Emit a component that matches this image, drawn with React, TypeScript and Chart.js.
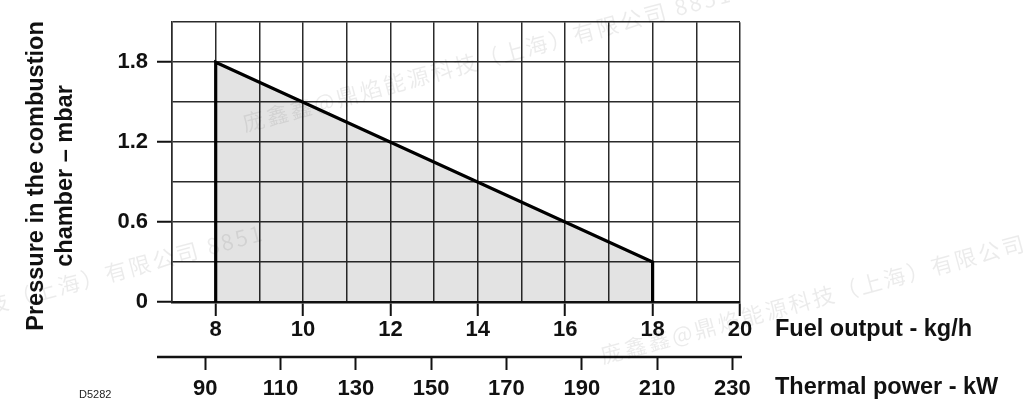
import { useEffect, useRef } from 'react';
import { Chart, registerables } from 'chart.js';

Chart.register(...registerables);

// ---- data ----
const fuelOutput = [8, 8, 18, 18]; // kg/h
const pressure = [0, 1.8, 0.3, 0]; // mbar
const fuelTickLabels = ['8', '10', '12', '14', '16', '18', '20'];
const pressureTickLabels = ['0', '0.6', '1.2', '1.8'];
const thermalTicks = [90, 110, 130, 150, 170, 190, 210, 230]; // kW
const KW_PER_KG = 11.6;
const FUEL_MIN = 7;
const FUEL_MAX = 20;
const FUEL_STEP = 1;
const P_MIN = 0;
const P_MAX = 2.1;
const P_STEP = 0.3;

const yTitleLines = ['Pressure in the combustion', 'chamber – mbar'];
const xTitle = 'Fuel output - kg/h';
const x2Title = 'Thermal power - kW';
const drawingCode = 'D5282';
const watermark = '庞鑫鑫@鼎焰能源科技（上海）有限公司 8851';

const FONT = '"Liberation Sans", Arial, Helvetica, sans-serif';
const INK = '#111';
const GRID = '#2b2b2b';

const fmt = (v: number) => String(Math.round(v * 10) / 10);
const showFuel = (v: number) => fuelTickLabels.includes(fmt(v));
const showPressure = (v: number) => pressureTickLabels.includes(fmt(v));

const decorPlugin = {
  id: 'decor',
  afterDraw(chart: any) {
    const { ctx, chartArea, scales } = chart;
    const x2 = scales.x2;
    ctx.save();
    // thermal power axis line (extends left like the pressure ticks)
    ctx.strokeStyle = INK;
    ctx.lineWidth = 2.5;
    ctx.beginPath();
    ctx.moveTo(chartArea.left - 15, x2.top + 1);
    ctx.lineTo(chartArea.right + 2, x2.top + 1);
    ctx.stroke();

    // axis titles on the right
    ctx.fillStyle = INK;
    ctx.font = `bold 23.5px ${FONT}`;
    ctx.textAlign = 'left';
    ctx.textBaseline = 'alphabetic';
    ctx.fillText(xTitle, chartArea.right + 35, 336);
    ctx.fillText(x2Title, chartArea.right + 35, 394);

    // drawing code
    ctx.font = `11px ${FONT}`;
    ctx.fillStyle = '#222';
    ctx.fillText(drawingCode, 79, 398);

    // y title (rotated)
    ctx.save();
    ctx.fillStyle = INK;
    ctx.font = `bold 23.5px ${FONT}`;
    ctx.translate(43.3, 176);
    ctx.rotate(-Math.PI / 2);
    ctx.textAlign = 'center';
    ctx.fillText(yTitleLines[0], 0, 0);
    ctx.fillText(yTitleLines[1], 0, 28.4);
    ctx.restore();

    // faint watermark
    ctx.fillStyle = 'rgba(0,0,0,0.08)';
    ctx.font = `22px "Noto Sans CJK SC", sans-serif`;
    try {
      (ctx as any).letterSpacing = '2.5px';
    } catch (e) {
      /* ignore */
    }
    const ang = (-15 * Math.PI) / 180;
    const marks: [number, number, CanvasTextAlign][] = [
      [245, 132, 'left'],
      [266, 240, 'right'],
      [603, 364, 'left'],
    ];
    for (const [mx, my, al] of marks) {
      ctx.save();
      ctx.translate(mx, my);
      ctx.rotate(ang);
      ctx.textAlign = al;
      ctx.fillText(watermark, 0, 0);
      ctx.restore();
    }
    ctx.restore();
  },
};

export default function App() {
  const ref = useRef<HTMLCanvasElement | null>(null);

  useEffect(() => {
    if (!ref.current) return;
    const tickFont = { family: FONT, size: 22, weight: 'bold' as const };
    const chart = new Chart(ref.current, {
      type: 'line',
      data: {
        datasets: [
          {
            data: fuelOutput.map((x, i) => ({ x, y: pressure[i] })),
            borderColor: '#000',
            borderWidth: 3.2,
            backgroundColor: 'rgba(0,0,0,0.11)',
            fill: 'origin',
            pointRadius: 0,
            tension: 0,
            borderJoinStyle: 'miter',
            xAxisID: 'x',
            yAxisID: 'y',
          },
        ],
      },
      options: {
        responsive: false,
        animation: false,
        layout: { padding: { top: 22, right: 284, left: 0, bottom: 0 } },
        plugins: { legend: { display: false }, tooltip: { enabled: false } },
        scales: {
          x: {
            type: 'linear',
            position: 'bottom',
            weight: 0,
            min: FUEL_MIN,
            max: FUEL_MAX,
            afterFit: (s: any) => {
              s.height = 54;
            },
            ticks: {
              stepSize: FUEL_STEP,
              autoSkip: false,
              maxRotation: 0,
              padding: 1,
              color: INK,
              font: tickFont,
              callback: (v: any) => (showFuel(Number(v)) ? fmt(Number(v)) : ''),
            },
            grid: {
              color: GRID,
              lineWidth: 1.5,
              drawTicks: true,
              tickLength: 14,
              tickWidth: 2,
              tickColor: (c: any) => (c.tick && showFuel(c.tick.value) ? INK : 'rgba(0,0,0,0)'),
            },
            border: { display: true, color: INK, width: 2.5 },
          },
          x2: {
            type: 'linear',
            position: 'bottom',
            weight: 1,
            min: FUEL_MIN * KW_PER_KG,
            max: FUEL_MAX * KW_PER_KG,
            afterBuildTicks: (s: any) => {
              s.ticks = thermalTicks.map((v) => ({ value: v }));
            },
            afterFit: (s: any) => {
              s.height = 62;
            },
            ticks: {
              autoSkip: false,
              maxRotation: 0,
              padding: 6,
              color: INK,
              font: tickFont,
              callback: (v: any) => String(v),
            },
            grid: {
              drawOnChartArea: false,
              drawTicks: true,
              tickLength: 14,
              tickWidth: 2,
              tickColor: INK,
            },
            border: { display: false },
          },
          y: {
            type: 'linear',
            min: P_MIN,
            max: P_MAX,
            afterFit: (s: any) => {
              s.width = 172;
            },
            ticks: {
              stepSize: P_STEP,
              autoSkip: false,
              padding: 9,
              color: INK,
              font: tickFont,
              callback: (v: any) => (showPressure(Number(v)) ? fmt(Number(v)) : ''),
            },
            grid: {
              color: GRID,
              lineWidth: 1.5,
              drawTicks: true,
              tickLength: 15,
              tickWidth: 2,
              tickColor: (c: any) => (c.tick && showPressure(c.tick.value) ? INK : 'rgba(0,0,0,0)'),
            },
            border: { display: true, color: GRID, width: 1.5 },
          },
        },
      },
      plugins: [decorPlugin],
    } as any);
    return () => chart.destroy();
  }, []);

  return (
    <div style={{ position: 'fixed', left: 0, top: 0, width: 1024, height: 418, background: '#fff' }}>
      <canvas ref={ref} width={1024} height={418} style={{ display: 'block', width: 1024, height: 418 }} />
    </div>
  );
}
